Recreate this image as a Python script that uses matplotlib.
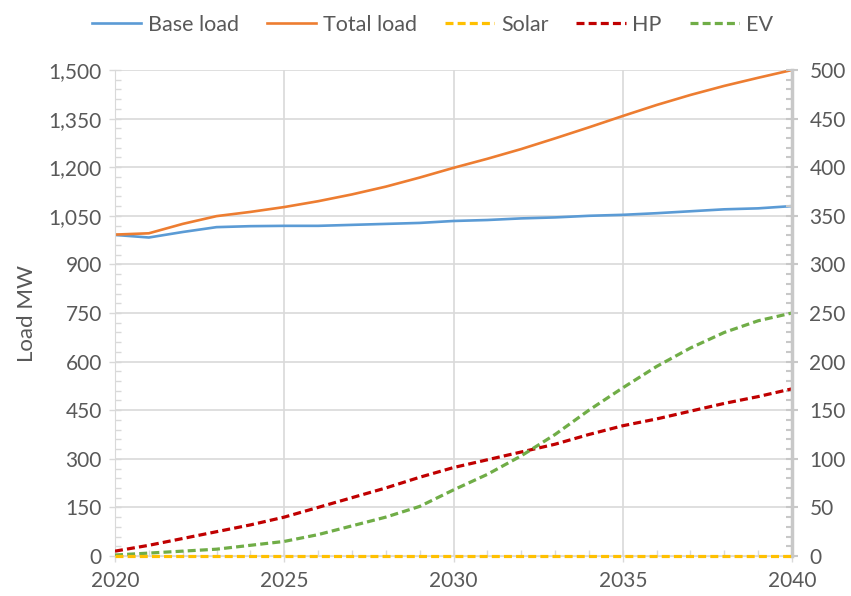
import matplotlib
matplotlib.use("Agg")
import matplotlib.pyplot as plt
from matplotlib.ticker import MultipleLocator, FuncFormatter

years = list(range(2020, 2041))
base_load = [991, 983, 1000, 1015, 1018, 1019, 1019, 1022, 1025, 1028, 1034,
             1037, 1042, 1045, 1050, 1053, 1058, 1064, 1070, 1073, 1080]
total_load = [992, 996, 1025, 1049, 1062, 1077, 1095, 1116, 1140, 1168, 1198,
              1226, 1256, 1289, 1323, 1358, 1392, 1423, 1451, 1476, 1500]
solar = [0] * 21
hp = [5, 11, 18, 25, 32, 40, 50, 60, 70, 81, 91, 99, 107, 115, 125, 134, 141,
      149, 157, 164, 172]
ev = [1, 3, 5, 7, 11, 15, 22, 31, 40, 51, 68, 84, 103, 125, 150, 173, 195,
      214, 230, 242, 250]

plt.rcParams['font.family'] = ['Lato', 'DejaVu Sans']
TXT = '#595959'
GRID = '#D9D9D9'

fig = plt.figure(figsize=(8.51, 5.96), dpi=100)
ax = fig.add_axes([115/851, 40/596, 677/851, 486/596])
ax2 = ax.twinx()

l1, = ax.plot(years, base_load, color='#5B9BD5', lw=1.9, label='Base load')
l2, = ax.plot(years, total_load, color='#ED7D31', lw=1.9, label='Total load')
l3, = ax2.plot(years, solar, color='#FFC000', lw=2.3, dashes=(2.5, 1.3),
               label='Solar', clip_on=False, zorder=5)
l4, = ax2.plot(years, hp, color='#C00000', lw=2.3, dashes=(2.5, 1.3), label='HP')
l5, = ax2.plot(years, ev, color='#70AD47', lw=2.3, dashes=(2.5, 1.3), label='EV')

ax.set_xlim(2020, 2040)
ax.set_ylim(0, 1500)
ax2.set_ylim(0, 500)
ax.xaxis.set_major_locator(MultipleLocator(5))
ax.xaxis.set_minor_locator(MultipleLocator(1))
ax.yaxis.set_major_locator(MultipleLocator(150))
ax.yaxis.set_minor_locator(MultipleLocator(30))
ax2.yaxis.set_major_locator(MultipleLocator(50))
ax2.yaxis.set_minor_locator(MultipleLocator(10))
ax.yaxis.set_major_formatter(FuncFormatter(lambda v, p: f"{int(v):,}"))

ax.grid(True, which='major', color=GRID, lw=1.2)
ax.set_axisbelow(True)

for a in (ax, ax2):
    for s in a.spines.values():
        s.set_color(GRID)
    a.spines['top'].set_visible(False)
ax.spines['right'].set_visible(False)
ax2.spines['left'].set_visible(False)
ax2.spines['bottom'].set_visible(False)
ax2.spines['right'].set_color('#C8C8C8')
ax2.spines['right'].set_linewidth(2.5)
ax2.spines['right'].set_linestyle((0, (2, 1)))

ax.tick_params(axis='both', which='major', direction='inout', length=9,
               color=GRID, labelcolor=TXT, labelsize=15, width=1)
ax.tick_params(axis='both', which='minor', direction='in', length=4,
               color=GRID, width=1)
ax.tick_params(axis='y', pad=5)
ax.tick_params(axis='x', pad=6)
ax2.tick_params(axis='y', which='major', direction='inout', length=9,
                color='#C8C8C8', labelcolor=TXT, labelsize=15, width=1.5, pad=8)
ax2.tick_params(axis='y', which='minor', direction='in', length=4,
                color='#C8C8C8', width=1.5)

ax.set_ylabel('Load MW', color=TXT, fontsize=16, labelpad=8)

fig.legend(handles=[l1, l2, l3, l4, l5], loc='upper center',
           bbox_to_anchor=(0.508, 1.008), ncol=5, frameon=False,
           fontsize=15.5, labelcolor=TXT, handlelength=2.3, handletextpad=0.3,
           columnspacing=1.3)

fig.savefig('out.png', dpi=100)
